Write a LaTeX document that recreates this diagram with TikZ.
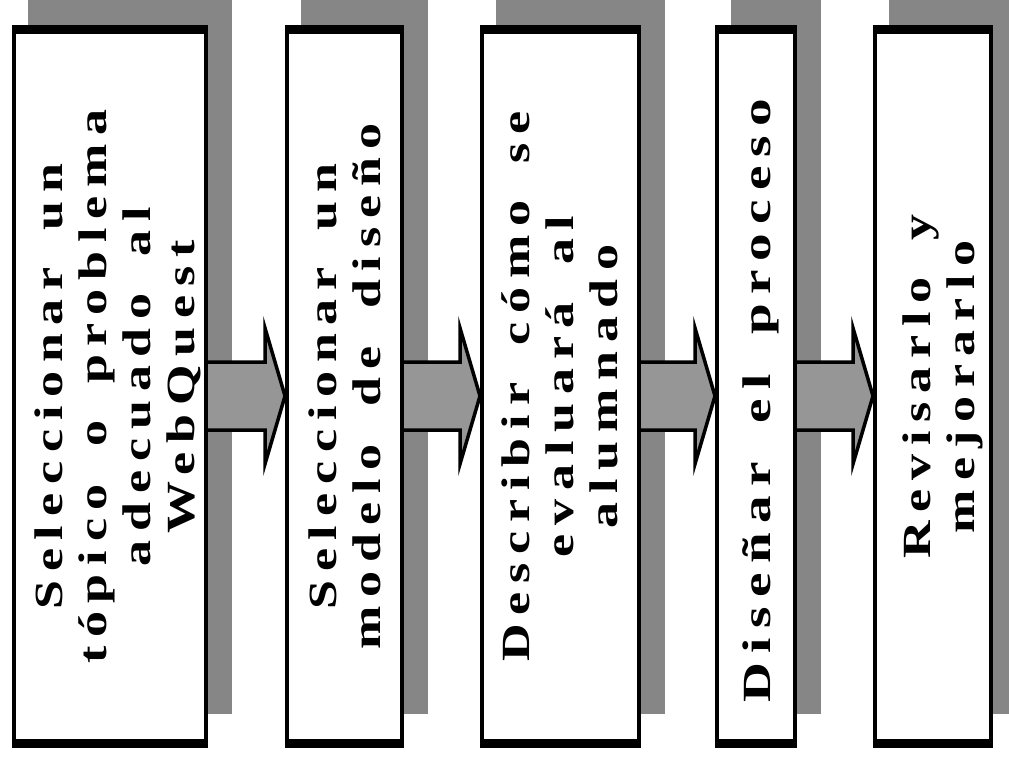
\documentclass[tikz,border=0pt]{standalone}
\usepackage{fontspec}
\newfontfamily\boxfont[LetterSpace=17,WordSpace=1.7]{Liberation Serif}
\usetikzlibrary{calc,backgrounds}
\definecolor{shadowgray}{HTML}{868686}
\definecolor{arrowgray}{HTML}{969696}
\begin{document}
\begin{tikzpicture}[x=1pt,y=1pt,
  box/.style={fill=white, draw=black, line width=4pt, minimum height=719pt, inner sep=0pt,
    path picture={
      \fill[black] (path picture bounding box.north west) rectangle ([yshift=-7pt]path picture bounding box.north east);
      \fill[black] (path picture bounding box.south west) rectangle ([yshift=7pt]path picture bounding box.south east);}},
  txt/.style={rotate=90, xscale=1.3, align=center, inner sep=0pt,
    font=\boxfont\bfseries\fontsize{40}{44}\selectfont},
  shade/.style={fill=shadowgray},
  arr/.style={fill=arrowgray, draw=black, line width=3.5pt, line join=miter}]
\useasboundingbox (0,0) rectangle (1009,-760);
\node[box, minimum width=192pt] (b1) at (110,-386.5) {};
\node[box, minimum width=115pt] (b2) at (344.5,-386.5) {};
\node[box, minimum width=157pt] (b3) at (560.5,-386.5) {};
\node[box, minimum width=78pt]  (b4) at (756,-386.5) {};
\node[box, minimum width=116pt] (b5) at (933,-386.5) {};
\begin{scope}[on background layer]
  \fill[white] (0,0) rectangle (1009,-760);
  \foreach \b in {b1,b2,b3,b4,b5}
    \fill[shade] ($(\b.north west)+(16,34)$) rectangle ($(\b.south east)+(24,34)$);
\end{scope}
\node[txt] (t1) at ($(b1.center)+(7.5,0)$) {Seleccionar un\\tópico o problema\\adecuado al\\WebQuest};
\node[txt] (t2) at ($(b2.center)+(0.5,0)$) {Seleccionar un\\modelo de diseño};
\node[txt] (t3) at ($(b3.center)+(-1,0)$) {Describir cómo se\\evaluará al\\alumnado};
\node[txt, xscale=1.06] (t4) at ($(b4.center)+(5,-14)$) {Diseñar el proceso};
\node[txt] (t5) at ($(b5.center)+(10,0)$) {Revisarlo y\\mejorarlo};
\foreach \a/\b in {b1/b2,b2/b3,b3/b4,b4/b5} {
  \coordinate (s) at ($(\a.east)+(0,-9.5)$);
  \coordinate (e) at ($(\b.west)+(0,-9.5)$);
  \filldraw[arr] ($(s)+(0,34)$) -- ($(e)+(-20,34)$) -- ($(e)+(-20,68)$) -- (e)
    -- ($(e)+(-20,-68)$) -- ($(e)+(-20,-34)$) -- ($(s)+(0,-34)$);
}
\end{tikzpicture}
\end{document}
